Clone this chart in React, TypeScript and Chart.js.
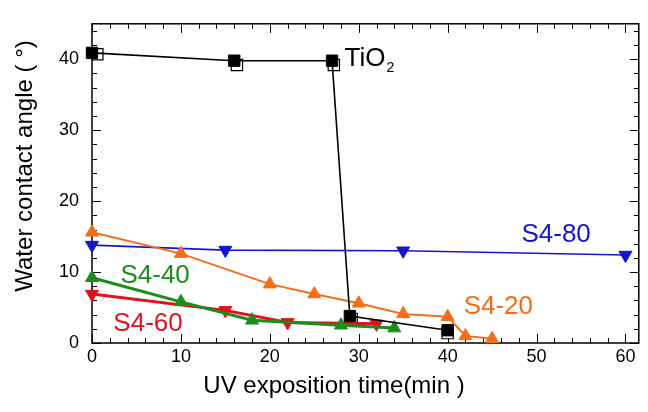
import React, { useEffect, useRef } from 'react';
import { Chart, registerables } from 'chart.js';
Chart.register(...registerables);

// ---- data ----
const tio2Time = [0, 16, 27, 29, 40];
const tio2Angle = [40.9, 39.8, 39.8, 3.8, 1.8];
const tio2OpenTime = [0.6, 16.3, 27.2, 29.2, 40];
const tio2OpenAngle = [40.7, 39.2, 39.2, 3.4, 1.4];
const s420Time = [0, 10, 20, 25, 30, 35, 40, 42, 45];
const s420Angle = [15.6, 12.6, 8.3, 6.9, 5.6, 4.1, 3.7, 1.0, 0.6];
const s480Time = [0, 15, 35, 60];
const s480Angle = [13.8, 13.1, 13.0, 12.4];
const s440Time = [0, 10, 18, 28, 34];
const s440Angle = [9.2, 5.8, 3.2, 2.5, 2.1];
const s460Time = [0, 15, 22, 32];
const s460Angle = [6.9, 4.6, 2.9, 2.7];
const xTicks = [0, 10, 20, 30, 40, 50, 60];
const yTicks = [0, 10, 20, 30, 40];
const xMin = 0, xMax = 61.5, yMin = 0, yMax = 45;

const BLACK = '#000000';
const ORANGE = '#f26f1a';
const BLUE = '#1515cc';
const GREEN = '#1c8c1c';
const RED = '#e3121a';

const pts = (xs: number[], ys: number[]) => xs.map((x, i) => ({ x, y: ys[i] }));

const annotations = [
  { text: 'S4-80', x: 52.2, y: 15.2, color: BLUE, align: 'center' },
  { text: 'S4-40', x: 7.1, y: 9.5, color: GREEN, align: 'center' },
  { text: 'S4-60', x: 6.3, y: 2.7, color: RED, align: 'center' },
  { text: 'S4-20', x: 45.7, y: 5.1, color: ORANGE, align: 'center' },
];

const FONT = '"Liberation Sans", Arial, Helvetica, sans-serif';

const framePlugin = {
  id: 'frameTicks',
  beforeDatasetsDraw(chart: any) {
    const { ctx, chartArea: a, scales } = chart;
    const x = scales.x, y = scales.y;
    ctx.save();
    ctx.strokeStyle = BLACK;
    ctx.lineWidth = 1.5;
    ctx.strokeRect(a.left, a.top, a.right - a.left, a.bottom - a.top);
    ctx.lineWidth = 1;
    ctx.beginPath();
    for (let v = 0; v <= xMax; v += 2) {
      const px = Math.round(x.getPixelForValue(v)) + 0.5;
      const len = v % 10 === 0 ? 9 : 5;
      ctx.moveTo(px, a.bottom); ctx.lineTo(px, a.bottom - len);
      ctx.moveTo(px, a.top); ctx.lineTo(px, a.top + len);
    }
    for (let v = 0; v <= yMax; v += 2) {
      const py = Math.round(y.getPixelForValue(v)) + 0.5;
      const len = v % 10 === 0 ? 9 : 5;
      ctx.moveTo(a.left, py); ctx.lineTo(a.left + len, py);
      ctx.moveTo(a.right, py); ctx.lineTo(a.right - len, py);
    }
    ctx.stroke();
    ctx.restore();
  },
  afterDatasetsDraw(chart: any) {
    const { ctx, scales } = chart;
    const x = scales.x, y = scales.y;
    ctx.save();
    ctx.textBaseline = 'middle';
    // series labels
    ctx.font = `26px ${FONT}`;
    for (const an of annotations) {
      ctx.fillStyle = an.color;
      ctx.textAlign = an.align as CanvasTextAlign;
      ctx.fillText(an.text, x.getPixelForValue(an.x), y.getPixelForValue(an.y));
    }
    // TiO2 label with subscript
    ctx.fillStyle = BLACK;
    ctx.textAlign = 'left';
    const tx = x.getPixelForValue(28.4), ty = y.getPixelForValue(40.1);
    ctx.fillText('TiO', tx, ty);
    const w = ctx.measureText('TiO').width;
    ctx.font = `14px ${FONT}`;
    ctx.fillText('2', tx + w + 1, ty + 10);
    // axis titles
    ctx.font = `24px ${FONT}`;
    ctx.textAlign = 'center';
    ctx.fillText('UV exposition time(min )', 334, 386);
    ctx.translate(25, 166);
    ctx.rotate(-Math.PI / 2);
    ctx.fillText('Water contact angle ( °)', 0, 0);
    ctx.restore();
  },
};

export default function App() {
  const ref = useRef<HTMLCanvasElement | null>(null);
  useEffect(() => {
    document.body.style.margin = '0';
    const canvas = ref.current;
    if (!canvas) return;
    const common = { showLine: true, tension: 0, clip: false as any };
    const chart = new Chart(canvas, {
      type: 'scatter',
      data: {
        datasets: [
          {
            ...common, label: 'TiO2', data: pts(tio2Time, tio2Angle), borderColor: BLACK, backgroundColor: BLACK,
            borderWidth: 1.6, pointStyle: 'rect', pointRadius: 8, pointBorderWidth: 1, order: 1,
          },
          {
            ...common, showLine: false, label: 'TiO2 open', data: pts(tio2OpenTime, tio2OpenAngle), borderColor: BLACK,
            backgroundColor: '#ffffff', pointStyle: 'rect', pointRadius: 8, pointBorderWidth: 1.2, order: 6,
          },
          {
            ...common, label: 'S4-20', data: pts(s420Time, s420Angle), borderColor: ORANGE, backgroundColor: ORANGE,
            borderWidth: 2, pointStyle: 'triangle', pointRadius: 7.5, pointBorderWidth: 1, order: 2,
          },
          {
            ...common, label: 'S4-80', data: pts(s480Time, s480Angle), borderColor: BLUE, backgroundColor: BLUE,
            borderWidth: 1.6, pointStyle: 'triangle', pointRotation: 180, pointRadius: 7.5, pointBorderWidth: 1, order: 3,
          },
          {
            ...common, label: 'S4-40', data: pts(s440Time, s440Angle), borderColor: GREEN, backgroundColor: GREEN,
            borderWidth: 3, pointStyle: 'triangle', pointRadius: 7.5, pointBorderWidth: 1, order: 4,
          },
          {
            ...common, label: 'S4-60', data: pts(s460Time, s460Angle), borderColor: RED, backgroundColor: RED,
            borderWidth: 3, pointStyle: 'triangle', pointRotation: 180, pointRadius: 7.5, pointBorderWidth: 1, order: 5,
          },
        ],
      },
      options: {
        animation: false,
        responsive: true,
        maintainAspectRatio: false,
        layout: { padding: { left: 0, right: 3, top: 8, bottom: 0 } },
        plugins: { legend: { display: false }, tooltip: { enabled: false } },
        scales: {
          x: {
            type: 'linear', min: xMin, max: xMax,
            grid: { display: false, drawTicks: false },
            border: { display: false },
            ticks: { color: BLACK, font: { family: FONT, size: 18 }, padding: 3 },
            afterBuildTicks: (s: any) => { s.ticks = xTicks.map((v) => ({ value: v })); },
            afterFit: (s: any) => { s.height = 69; },
          },
          y: {
            type: 'linear', min: yMin, max: yMax,
            grid: { display: false, drawTicks: false },
            border: { display: false },
            ticks: { color: BLACK, font: { family: FONT, size: 18 }, padding: 13 },
            afterBuildTicks: (s: any) => { s.ticks = yTicks.map((v) => ({ value: v })); },
            afterFit: (s: any) => { s.width = 92; },
          },
        },
      },
      plugins: [framePlugin],
    } as any);
    return () => chart.destroy();
  }, []);
  return (
    <div style={{ position: 'absolute', left: 0, top: 0, width: 648, height: 412 }}>
      <canvas ref={ref} />
    </div>
  );
}
